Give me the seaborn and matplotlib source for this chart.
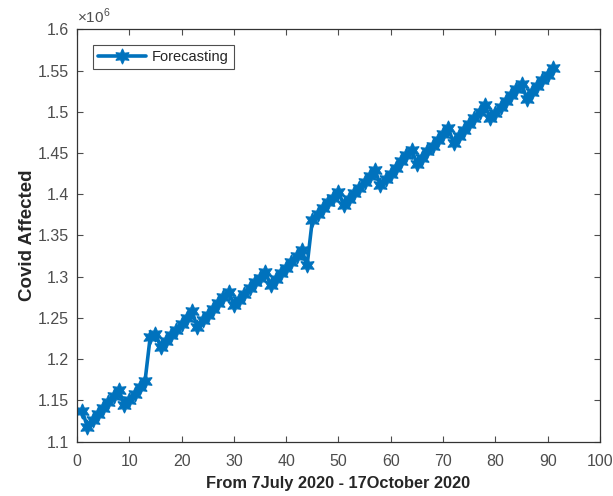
import numpy as np
import pandas as pd
import matplotlib
matplotlib.use("Agg")
import matplotlib.pyplot as plt
import seaborn as sns
from matplotlib.ticker import FuncFormatter, MultipleLocator

days = list(range(1, 92))
affected_millions = [
    1.137, 1.118, 1.126, 1.133, 1.141, 1.148, 1.155, 1.163, 1.145, 1.151,
    1.158, 1.166, 1.173, 1.227, 1.231, 1.215, 1.222, 1.229, 1.236, 1.243,
    1.250, 1.258, 1.239, 1.247, 1.254, 1.261, 1.268, 1.275, 1.282, 1.266,
    1.272, 1.279, 1.286, 1.293, 1.299, 1.306, 1.290, 1.297, 1.304, 1.311,
    1.318, 1.325, 1.332, 1.314, 1.369, 1.376, 1.383, 1.390, 1.396, 1.403,
    1.387, 1.394, 1.401, 1.408, 1.415, 1.422, 1.429, 1.411, 1.418, 1.425,
    1.432, 1.440, 1.447, 1.454, 1.437, 1.444, 1.452, 1.459, 1.466, 1.473,
    1.480, 1.462, 1.470, 1.478, 1.485, 1.493, 1.500, 1.508, 1.492, 1.499,
    1.506, 1.513, 1.520, 1.527, 1.534, 1.516, 1.524, 1.531, 1.538, 1.545,
    1.553,
]
series_label = "Forecasting"
x_label = "From 7July 2020 - 17October 2020"
y_label = "Covid Affected"

sns.set_style("white")
plt.rcParams["font.family"] = ["Liberation Sans", "DejaVu Sans"]
plt.rcParams["mathtext.fontset"] = "custom"
plt.rcParams["mathtext.rm"] = "Liberation Sans"

df = pd.DataFrame({"day": days, "affected": np.array(affected_millions) * 1e6})

fig = plt.figure(figsize=(6.13, 4.96), dpi=100)
ax = fig.add_axes([0.1256, 0.1095, 0.9788 - 0.1256, 0.941 - 0.1095])

sns.lineplot(data=df, x="day", y="affected", ax=ax, color="#0072BD",
             linewidth=2.6, marker=(6, 1, 0), markersize=11,
             markeredgecolor="#0072BD", label=series_label)

ax.set_xlim(0, 100)
ax.set_ylim(1.1e6, 1.6e6)
ax.xaxis.set_major_locator(MultipleLocator(10))
ax.yaxis.set_major_locator(MultipleLocator(0.05e6))
ax.yaxis.set_major_formatter(FuncFormatter(lambda v, p: "%g" % round(v / 1e6, 4)))

tick_col = "#4d4d4d"
ax.tick_params(axis="both", direction="in", length=4, width=0.8,
               colors=tick_col, labelsize=11.5, top=True, right=True,
               bottom=True, left=True)
ax.tick_params(axis="x", pad=9)
ax.tick_params(axis="y", pad=6)
for s in ax.spines.values():
    s.set_color("#333333")
    s.set_linewidth(0.9)
ax.grid(False)

ax.text(0.0, 1.008, r"$\times10^{6}$", transform=ax.transAxes,
        ha="left", va="bottom", fontsize=11, color=tick_col)

ax.set_xlabel(x_label, fontsize=11.8, fontweight="bold", color="#262626", labelpad=5)
ax.set_ylabel(y_label, fontsize=13.5, fontweight="bold", color="#262626", labelpad=1)

leg = ax.legend(loc="upper left", bbox_to_anchor=(0.031, 0.962), frameon=True,
                fancybox=False, fontsize=10.5, handlelength=3.3,
                borderpad=0.35, handletextpad=0.35, borderaxespad=0)
leg.get_frame().set_edgecolor("#222222")
leg.get_frame().set_linewidth(0.8)

fig.savefig("out.png", dpi=100, facecolor="white")
